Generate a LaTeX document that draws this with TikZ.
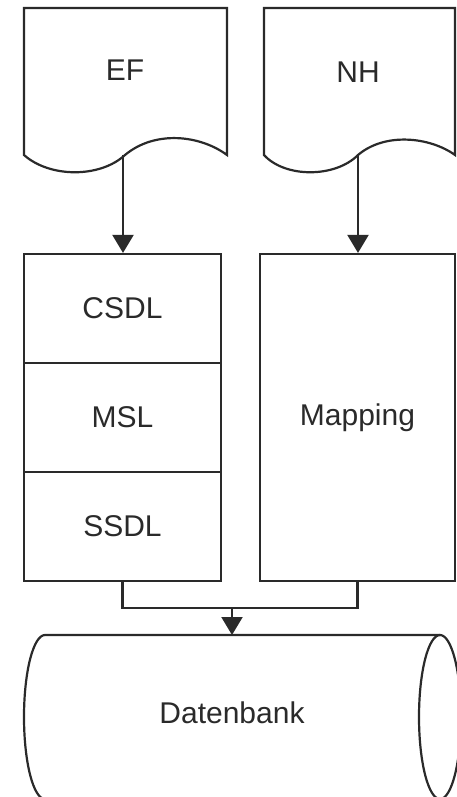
\documentclass[tikz,border=0pt]{standalone}
\usepackage{fontspec}
\setmainfont{Liberation Sans}
\usetikzlibrary{arrows.meta}
\definecolor{ink}{HTML}{2A2A2A}
\begin{document}
\begin{tikzpicture}[x=1pt,y=-1pt,
  line width=2.2pt, draw=ink,
  lbl/.style={text=ink, font=\fontsize{30}{32}\selectfont, inner sep=0pt},
  box/.style={lbl, draw=ink, line width=2.2pt, minimum width=197pt, minimum height=109pt, inner sep=0pt},
  arr/.style={draw=ink, -{Triangle[width=21pt,length=18pt]}},
  conn/.style={draw=ink}]
\useasboundingbox (0,0) rectangle (457,797);
\clip (0,0) rectangle (457,797);

% input documents
\draw[ink] (24,8) -- (227,8) -- (227,155)
  .. controls (200,135) and (155,130) .. (125,155)
  .. controls (100,178) and (50,178) .. (24,155) -- cycle;
\node[lbl] (ef) at (125,70) {EF};
\coordinate (efb) at (123,155);

\draw[ink] (264,8) -- (455,8) -- (455,155)
  .. controls (430,137) and (385,132) .. (358,155)
  .. controls (335,178) and (285,178) .. (264,155) -- cycle;
\node[lbl] (nh) at (358,72) {NH};
\coordinate (nhb) at (358,155);

% model layers and mapping
\node[box] (csdl) at (122.5,308.5) {CSDL};
\node[box] (msl)  at (122.5,417.5) {MSL};
\node[box] (ssdl) at (122.5,526.5) {SSDL};
\node[box, minimum width=195pt, minimum height=327pt] (map) at (357.5,417.5) {Mapping};

\draw[arr] (efb) -- (efb |- csdl.north);
\draw[arr] (nhb) -- (nhb |- map.north);

% merge into the database
\coordinate (mrg) at (232,608);
\coordinate (dbtop) at (232,635);
\draw[conn] (ssdl.south) -- (ssdl.south |- mrg) -- (map.south |- mrg) -- (map.south);
\draw[arr] (mrg) -- (dbtop);

% database cylinder
\draw[ink] (440,635) -- (45,635)
  arc[start angle=-90, end angle=-270, x radius=21, y radius=82] -- (440,799);
\draw[ink] (440,717) ellipse [x radius=21, y radius=82];
\node[lbl] (db) at (232,713) {Datenbank};
\end{tikzpicture}
\end{document}
